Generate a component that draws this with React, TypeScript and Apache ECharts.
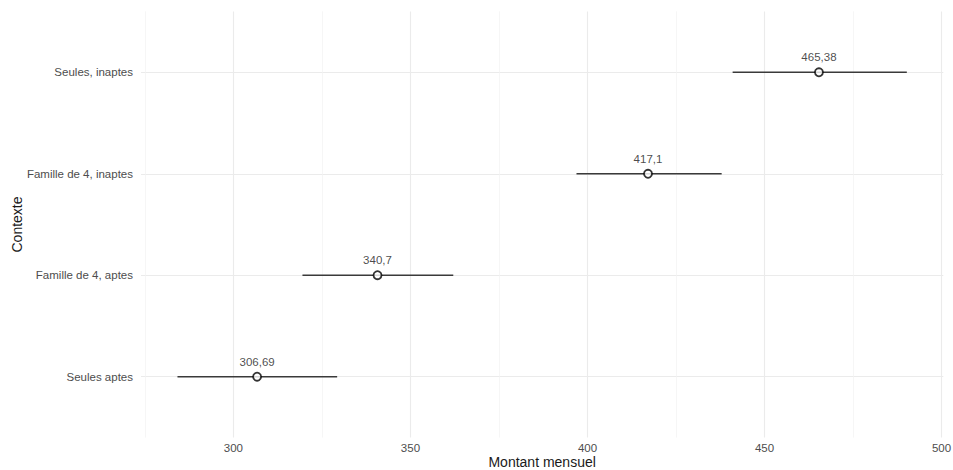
import React, { useEffect, useRef } from "react";
import * as echarts from "echarts";

const categories = ["Seules aptes", "Famille de 4, aptes", "Famille de 4, inaptes", "Seules, inaptes"];
const means = [306.69, 340.7, 417.1, 465.38];
const lows = [284.2, 319.5, 396.9, 441.0];
const highs = [329.3, 362.1, 437.9, 490.2];
const xMajorTicks = [300, 350, 400, 450, 500];
const xMinorTicks = [275, 325, 375, 425, 475];
const yPositions = [1, 2, 3, 4];

const FONT = "'Liberation Sans', Arial, sans-serif";

export default function App() {
  const ref = useRef<HTMLDivElement>(null);
  useEffect(() => {
    if (!ref.current) return;
    document.body.style.margin = "0";
    const chart = echarts.init(ref.current, null, { renderer: "svg" });
    const xMin = 273.9;
    const xMax = 500.5;
    chart.setOption({
      animation: false,
      backgroundColor: "#ffffff",
      textStyle: { fontFamily: FONT },
      grid: {
        left: 141,
        right: 9.7,
        top: 11.4,
        bottom: 32.4,
        containLabel: false,
        outerBoundsMode: "none",
      },
      xAxis: {
        type: "value",
        min: xMin,
        max: xMax,
        name: "Montant mensuel",
        nameLocation: "middle",
        nameGap: 17.5,
        nameMoveOverlap: false,
        nameTextStyle: { color: "#1a1a1a", fontSize: 14, fontFamily: FONT },
        axisLine: { show: false },
        axisTick: { show: false, customValues: xMajorTicks },
        axisLabel: {
          customValues: xMajorTicks,
          color: "#4d4d4d",
          fontSize: 11.5,
          margin: 4,
          fontFamily: FONT,
        },
        splitLine: { show: true, lineStyle: { color: "#EBEBEB", width: 1.1 } },
      },
      yAxis: {
        type: "value",
        min: 0.4,
        max: 4.6,
        name: "Contexte",
        nameLocation: "middle",
        nameGap: 117,
        nameMoveOverlap: false,
        nameRotate: 90,
        nameTextStyle: { color: "#1a1a1a", fontSize: 14, fontFamily: FONT },
        axisLine: { show: false },
        axisTick: { show: false, customValues: yPositions },
        axisLabel: {
          customValues: yPositions,
          color: "#4d4d4d",
          fontSize: 11.5,
          margin: 8,
          fontFamily: FONT,
          formatter: (v: number) => categories[Math.round(v) - 1] ?? "",
        },
        splitLine: { show: true, lineStyle: { color: "#EBEBEB", width: 1.1 } },
      },
      series: [
        {
          type: "scatter",
          data: [],
          silent: true,
          z: 0,
          markLine: {
            silent: true,
            z: 0,
            symbol: "none",
            label: { show: false },
            lineStyle: { color: "#F2F2F2", width: 0.7, type: "solid" },
            data: xMinorTicks.map((v) => ({ xAxis: v })),
          },
        },
        {
          type: "custom",
          silent: true,
          data: categories.map((_, i) => [lows[i], highs[i], yPositions[i]]),
          renderItem: (params: any, api: any) => {
            const a = api.coord([api.value(0), api.value(2)]);
            const b = api.coord([api.value(1), api.value(2)]);
            return {
              type: "line",
              shape: { x1: a[0], y1: a[1], x2: b[0], y2: b[1] },
              style: { stroke: "#3a3a3a", lineWidth: 1.6 },
            };
          },
          z: 2,
        },
        {
          type: "scatter",
          data: categories.map((_, i) => [means[i], yPositions[i]]),
          symbol: "circle",
          symbolSize: 8,
          itemStyle: { color: "#ffffff", borderColor: "#000000", borderWidth: 1.8 },
          label: {
            show: true,
            position: "top",
            distance: 4,
            color: "#1a1a1a",
            fontSize: 11.5,
            fontFamily: FONT,
            formatter: (p: any) => String(p.value[0]).replace(".", ","),
          },
          z: 3,
        },
      ],
    });
    return () => chart.dispose();
  }, []);
  return <div ref={ref} style={{ width: 953, height: 470 }} />;
}
